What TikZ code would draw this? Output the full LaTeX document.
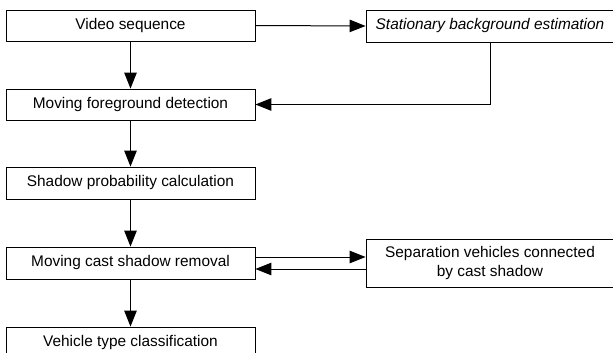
\documentclass[tikz,border=0pt]{standalone}
\usepackage{fontspec}
\setmainfont{Liberation Sans}
\usetikzlibrary{arrows.meta}
\begin{document}
\begin{tikzpicture}[x=1pt,y=-1pt,
  box/.style={draw, line width=0.9pt, minimum width=249pt, minimum height=31pt, inner sep=0pt,
              font=\fontsize{15.4}{19.5}\selectfont, align=center},
  rbox/.style={box, minimum width=248pt},
  arr/.style={line width=1pt, -{Triangle[length=16pt,width=12.5pt]}}]
\clip (0,0) rectangle (613,353);
\fill[white] (0,0) rectangle (613,353);
\node[box] (vid) at (130.5,25.5) {Video sequence};
\node[box] (mfg) at (130.5,104.5) {Moving foreground detection};
\node[box, minimum height=32pt] (spc) at (130.5,183) {Shadow probability calculation};
\node[box, minimum height=32pt] (mcs) at (130.5,263) {Moving cast shadow removal};
\node[box, minimum height=32pt] (vtc) at (130.5,343) {Vehicle type classification};
\node[rbox, minimum height=32pt] (sbe) at (490,26) {\itshape Stationary background estimation};
\node[rbox, minimum height=48pt] (sep) at (490,263) {Separation vehicles connected\\by cast shadow};
\draw[arr] (vid) -- (mfg);
\draw[arr] (mfg) -- (spc);
\draw[arr] (spc) -- (mcs);
\draw[arr] (mcs) -- (vtc);
\draw[arr] (vid.east) -- (sbe.west);
\draw[arr] (sbe.south) |- (mfg.east);
\draw[arr] ([yshift=6pt]mcs.east) -- ([yshift=6pt]sep.west);
\draw[arr] ([yshift=-6pt]sep.west) -- ([yshift=-6pt]mcs.east);
\end{tikzpicture}
\end{document}
